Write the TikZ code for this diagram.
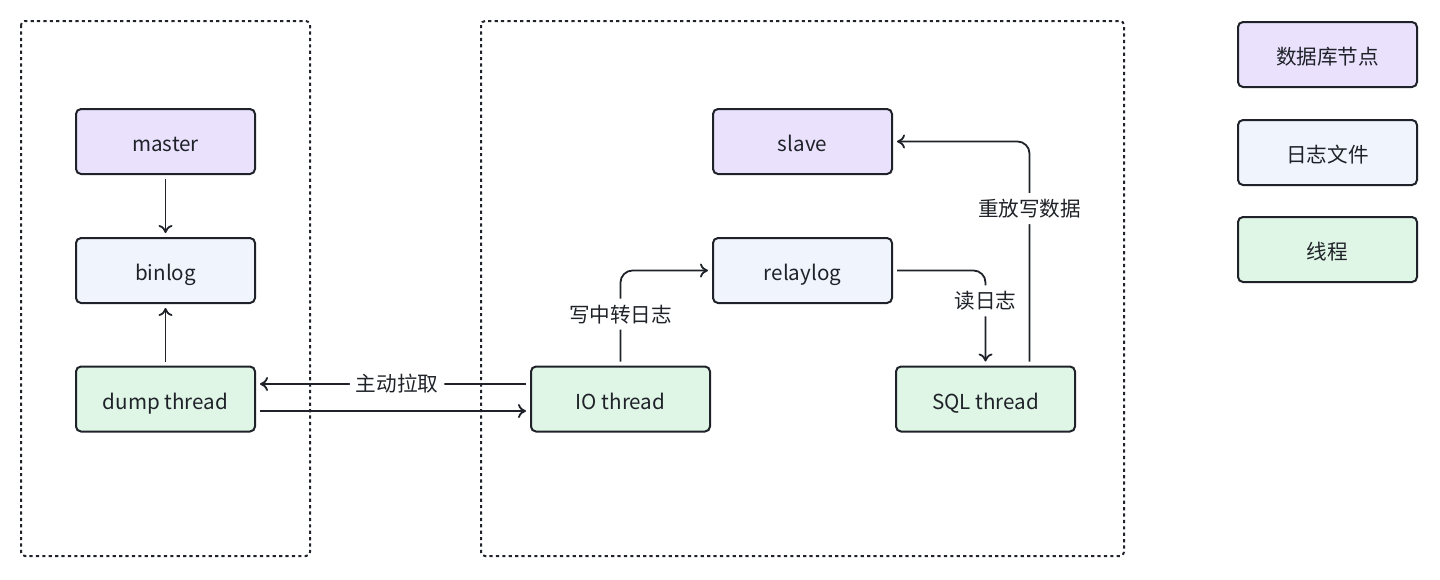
\documentclass[tikz,border=0pt]{standalone}
\usepackage{fontspec}
\setmainfont{Noto Sans CJK SC}
\usetikzlibrary{calc,arrows.meta}
\definecolor{dbfill}{HTML}{EAE2FD}
\definecolor{logfill}{HTML}{EFF4FD}
\definecolor{thrfill}{HTML}{DFF5E5}
\definecolor{inkc}{HTML}{1F2329}
\tikzstyle{box}=[draw=inkc,line width=1pt,rounded corners=2.5pt,minimum width=89.5pt,minimum height=32.5pt,text height=1.2em,text depth=0.2em,text=inkc,font=\fontsize{10.3}{12}\selectfont]
\tikzstyle{dbnode}=[box,fill=dbfill]
\tikzstyle{lognode}=[box,fill=logfill]
\tikzstyle{thrnode}=[box,fill=thrfill]
\tikzstyle{frame}=[draw=inkc,line width=1pt,rounded corners=2pt,dash pattern=on 1.6pt off 1.6pt]
\tikzstyle{flow}=[draw=inkc,line width=0.9pt,-{To[length=4pt,width=7pt]},shorten <=2pt,shorten >=2pt,rounded corners=6pt]
\tikzstyle{lbl}=[fill=white,text=inkc,font=\fontsize{10.3}{12}\selectfont,inner sep=3pt]

\begin{document}
\begin{tikzpicture}[x=0.5pt,y=-0.5pt]
	\useasboundingbox (0,0) rectangle (1440,579);
	% groups
	\draw[frame] (21,21) rectangle (310,556);
	\draw[frame] (481,21) rectangle (1124,556);
	% master side
	\node[dbnode] (master) at (165.5,141.5) {master};
	\node[lognode] (binlog) at (165.5,270.5) {binlog};
	\node[thrnode] (dumpthr) at (165.5,399) {dump thread};
	% slave side
	\node[dbnode] (slave) at (802.5,141.5) {slave};
	\node[lognode] (relaylog) at (802.5,270.5) {relaylog};
	\node[thrnode] (iothr) at (620.5,399) {IO thread};
	\node[thrnode] (sqlthr) at (985.5,399) {SQL thread};
	% legend
	\node[dbnode] (legdb) at (1327.5,54.5) {数据库节点};
	\node[lognode] (leglog) at (1327.5,152.5) {日志文件};
	\node[thrnode] (legthr) at (1327.5,249.5) {线程};

	\draw[flow] (master) -- (binlog);
	\draw[flow] (dumpthr) -- (binlog);
	\draw[flow] ([yshift=7.5pt]iothr.west) -- ([yshift=7.5pt]dumpthr.east) node[lbl,pos=0.485] {主动拉取};
	\draw[flow] ([yshift=-6pt]dumpthr.east) -- ([yshift=-6pt]iothr.west);
	\draw[flow] (iothr.north) |- (relaylog.west) node[lbl,pos=0.27] {写中转日志};
	\draw[flow] (relaylog.east) -| (sqlthr.north) node[lbl,pos=0.66] {读日志};
	\draw[flow] ([xshift=22pt]sqlthr.north) |- (slave.east) node[lbl,pos=0.35] {重放写数据};
\end{tikzpicture}
\end{document}
